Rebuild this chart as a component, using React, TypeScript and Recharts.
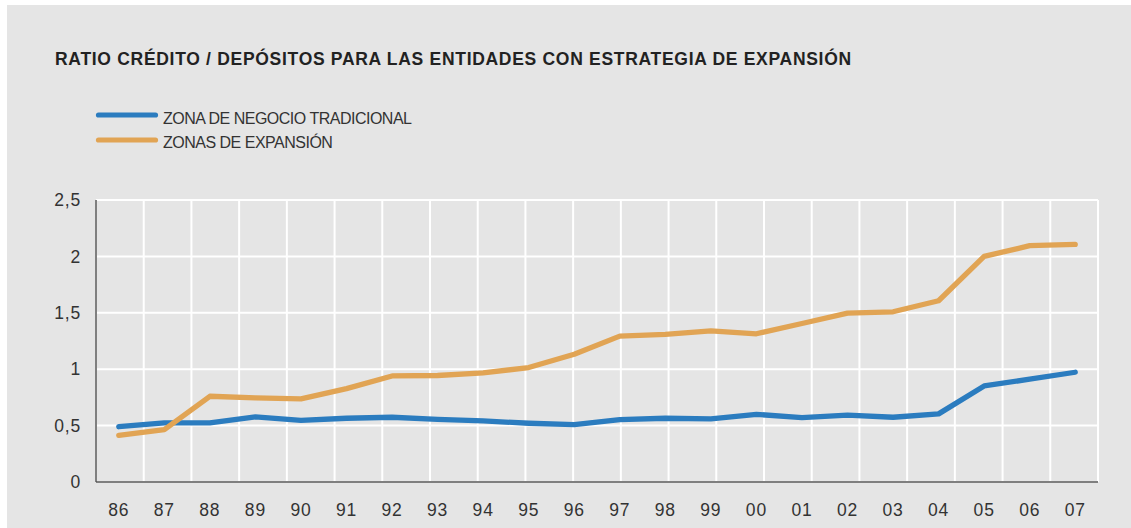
import React from 'react';
import { LineChart, Line, XAxis, YAxis, CartesianGrid, Legend } from 'recharts';

const years = ['86', '87', '88', '89', '90', '91', '92', '93', '94', '95', '96', '97', '98', '99', '00', '01', '02', '03', '04', '05', '06', '07'];
const tradicional = [0.49, 0.525, 0.525, 0.577, 0.547, 0.565, 0.574, 0.556, 0.541, 0.521, 0.509, 0.553, 0.565, 0.559, 0.6, 0.571, 0.592, 0.574, 0.604, 0.852, 0.911, 0.973];
const expansion = [0.414, 0.464, 0.76, 0.746, 0.737, 0.828, 0.94, 0.944, 0.967, 1.015, 1.133, 1.293, 1.308, 1.34, 1.314, 1.405, 1.497, 1.509, 1.607, 2.0, 2.095, 2.107];
const yTicks = [0, 0.5, 1, 1.5, 2, 2.5];
const gridBounds = Array.from({ length: years.length + 1 }, (_, i) => i);

const data = years.map((y, i) => ({ year: y, trad: tradicional[i], exp: expansion[i] }));

const FONT = '"Liberation Sans", Arial, Helvetica, sans-serif';
const BLUE = '#2b7cbf';
const ORANGE = '#e1a454';

const fmt = (v: number) => String(v).replace('.', ',');

const LegendContent = (props: any) => {
  const payload = props.payload || [];
  return (
    <div style={{ fontFamily: FONT, position: 'relative', width: 340, height: 50 }}>
      {payload.map((p: any, i: number) => (
        <div key={i} style={{ position: 'absolute', left: 0, top: i * 24.7, width: 340, height: 24 }}>
          <svg width={66} height={10} style={{ position: 'absolute', left: 0, top: 10, display: 'block' }}>
            <line x1={4.5} y1={5} x2={61.5} y2={5} stroke={p.color} strokeWidth={5.2} strokeLinecap="round" />
          </svg>
          <span
            style={{
              position: 'absolute',
              left: 69,
              top: 10.5,
              fontSize: 16,
              color: '#333',
              letterSpacing: -0.5,
              lineHeight: '16px',
              whiteSpace: 'nowrap',
            }}
          >
            {p.value}
          </span>
        </div>
      ))}
    </div>
  );
};

export default function App() {
  return (
    <div style={{ position: 'absolute', left: 0, top: 0, width: 1131, height: 528, background: '#ffffff', overflow: 'hidden' }}>
      <div style={{ position: 'absolute', left: 7, top: 5, width: 1124, height: 523, background: '#e5e5e5' }} />
      <div
        style={{
          position: 'absolute',
          left: 55,
          top: 50.5,
          fontFamily: FONT,
          fontWeight: 'bold',
          fontSize: 17.5,
          letterSpacing: 0.7,
          lineHeight: '17.5px',
          color: '#222',
          whiteSpace: 'nowrap',
        }}
      >
        RATIO CRÉDITO / DEPÓSITOS PARA LAS ENTIDADES CON ESTRATEGIA DE EXPANSIÓN
      </div>
      <div style={{ position: 'absolute', left: 0, top: 0 }}>
        <LineChart width={1131} height={528} data={data} margin={{ top: 200, right: 33, bottom: 0, left: 36 }}>
          <XAxis xAxisId="grid" type="number" domain={[0, years.length]} ticks={gridBounds} hide allowDataOverflow />
          <CartesianGrid xAxisId="grid" stroke="#ffffff" strokeWidth={2} />
          <XAxis
            dataKey="year"
            scale="band"
            interval={0}
            tickLine={false}
            tickMargin={16}
            height={46}
            axisLine={{ stroke: '#555', strokeWidth: 1.5 }}
            tick={{ fill: '#333', fontSize: 17.5, fontFamily: FONT, letterSpacing: 0.8 }}
          />
          <YAxis
            domain={[0, 2.5]}
            ticks={yTicks}
            width={60}
            tickLine={false}
            tickMargin={9}
            tickFormatter={fmt}
            axisLine={{ stroke: '#555', strokeWidth: 1.5 }}
            tick={{ fill: '#333', fontSize: 17.5, fontFamily: FONT, letterSpacing: 0.8 }}
          />
          <Legend
            layout="horizontal"
            verticalAlign="middle"
            align="center"
            content={<LegendContent />}
            wrapperStyle={{ position: 'absolute', left: 94, top: 100, width: 'auto' }}
          />
          <Line
            dataKey="trad"
            name="ZONA DE NEGOCIO TRADICIONAL"
            stroke={BLUE}
            strokeWidth={5.3}
            strokeLinecap="round"
            strokeLinejoin="round"
            dot={false}
            activeDot={false}
            isAnimationActive={false}
          />
          <Line
            dataKey="exp"
            name="ZONAS DE EXPANSIÓN"
            stroke={ORANGE}
            strokeWidth={5.3}
            strokeLinecap="round"
            strokeLinejoin="round"
            dot={false}
            activeDot={false}
            isAnimationActive={false}
          />
        </LineChart>
      </div>
    </div>
  );
}
